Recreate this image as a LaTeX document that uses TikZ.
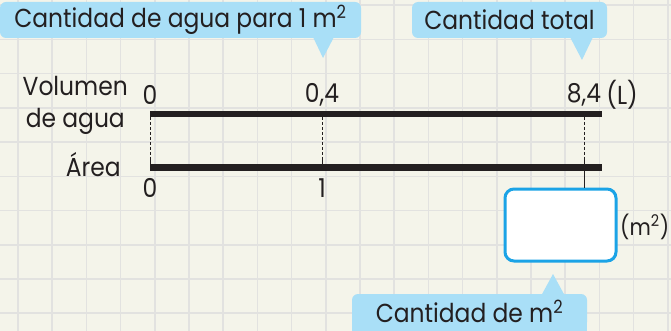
\documentclass[tikz,border=0pt]{standalone}
\usepackage{fontspec}
\setmainfont{Poppins}[FakeStretch=0.9]
\definecolor{bgc}{HTML}{F4F4EA}
\definecolor{gridc}{HTML}{E2E2E0}
\definecolor{callc}{HTML}{A9DFF7}
\definecolor{boxc}{HTML}{1BA3E6}
\definecolor{inkc}{HTML}{231F20}
\tikzset{
  gridline/.style={draw=gridc, line width=1.6pt},
  barline/.style={draw=inkc, line width=6.5pt},
  dashline/.style={draw=inkc, line width=0.9pt, dash pattern=on 3pt off 2pt},
  solidline/.style={draw=inkc, line width=0.9pt},
  lbl/.style={text=inkc, font=\fontsize{26}{29}\selectfont, inner sep=0pt},
  callout/.style={fill=callc, rounded corners=6pt, text=inkc, font=\fontsize{26}{29}\selectfont, inner sep=0pt},
  answerbox/.style={draw=boxc, line width=3pt, fill=white, rounded corners=9pt, minimum width=111pt, minimum height=72pt, inner sep=0pt}
}
\begin{document}
\begin{tikzpicture}[x=1pt,y=-1pt]
\useasboundingbox (0,0) rectangle (671,331);
\fill[bgc] (0,0) rectangle (671,331);
\foreach \i in {0,...,19} \draw[gridline] ({18+34.2*\i},0) -- ++(0,331);
\foreach \j in {0,...,9} \draw[gridline] (0,{5.3+34.2*\j}) -- ++(671,0);

% bars
\coordinate (v0) at (150,114);
\coordinate (v1) at (602,114);
\coordinate (a0) at (150,167.5);
\coordinate (a1) at (602,167.5);
\draw[barline] (v0) -- (v1);
\draw[barline] (a0) -- (a1);

% answer box
\node[answerbox] (ans) at (560.5,225) {};

% guide lines
\coordinate (g0t) at (150,117);
\coordinate (g0m) at (150,157);
\coordinate (g0b) at (150,165);
\coordinate (g1t) at (322,117);
\coordinate (g1m) at (322,157);
\coordinate (g1b) at (322,165);
\coordinate (g2t) at (584,117);
\coordinate (g2m) at (584,157);
\draw[dashline] (g0t) -- (g0m);
\draw[solidline] (g0m) -- (g0b);
\draw[dashline] (g1t) -- (g1m);
\draw[solidline] (g1m) -- (g1b);
\draw[dashline] (g2t) -- (g2m);
\draw[solidline] (g2m) -- (ans.north -| g2m);

% labels
\node[lbl, anchor=east] (vol) at (128,86) {Volumen};
\node[lbl, anchor=east] (agua) at (125,121) {de agua};
\node[lbl, anchor=base east] (area) at (121,176) {Área};
\node[lbl] (n0) at (150,95) {0};
\node[lbl] (n04) at (322,95) {0,4};
\node[lbl] (n84) at (584,95) {8,4};
\node[lbl, anchor=west] (unitL) at ([xshift=5pt]n84.east) {(L)};
\node[lbl] (m0) at (150,188) {0};
\node[lbl] (m1) at (322,188) {1};
\node[lbl, anchor=west, font=\fontsize{23}{26}\selectfont] (unitm) at (620,227) {(m\textsuperscript{2})};

% callouts
\node[callout, minimum width=361pt, minimum height=36pt] (c1) at (180.5,20) {Cantidad de agua para 1 m\textsuperscript{2}};
\coordinate (c1tip) at (323,58);
\fill[callc] (313,37) -- (c1tip) -- (334,37) -- cycle;

\node[callout, minimum width=195pt, minimum height=36pt] (c2) at (509.5,20) {Cantidad total};
\coordinate (c2tip) at (582,60);
\fill[callc] (570,37) -- (c2tip) -- (593,37) -- cycle;

\fill[callc] (352,320) rectangle (587,331);
\node[callout, minimum width=235pt, minimum height=34pt] (c3) at (469.5,311) {Cantidad de m\textsuperscript{2}};
\coordinate (c3tip) at (553,274);
\fill[callc] (541,296) -- (c3tip) -- (565,296) -- cycle;
\end{tikzpicture}
\end{document}
